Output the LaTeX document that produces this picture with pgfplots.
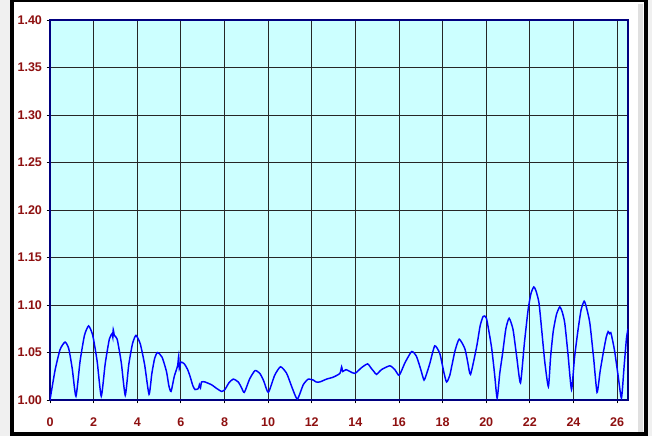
\documentclass[border=0pt]{standalone}
\usepackage{pgfplots}
\pgfplotsset{compat=1.18}
\usepackage{fontspec}
\setmainfont{Liberation Sans}
\definecolor{bgc}{HTML}{CCFFFF}
\definecolor{navyc}{HTML}{000080}
\definecolor{labc}{HTML}{8E1010}
\pgfplotstableread{
x y
0.00 1.000
0.23 1.031
0.46 1.053
0.69 1.061
0.86 1.054
1.02 1.033
1.19 1.004
1.38 1.041
1.58 1.068
1.77 1.078
1.96 1.068
2.16 1.041
2.35 1.004
2.53 1.038
2.72 1.064
2.85 1.070
2.88 1.066
2.90 1.074
2.95 1.068
3.08 1.064
3.27 1.039
3.45 1.005
3.61 1.037
3.78 1.059
3.94 1.068
4.14 1.059
4.34 1.037
4.54 1.006
4.67 1.028
4.80 1.044
4.93 1.050
5.14 1.045
5.34 1.030
5.45 1.015
5.55 1.009
5.70 1.025
5.85 1.036
5.90 1.046
5.93 1.033
6.00 1.040
6.16 1.038
6.31 1.032
6.42 1.025
6.55 1.015
6.65 1.011
6.80 1.012
6.85 1.016
6.90 1.013
6.95 1.019
7.10 1.019
7.41 1.016
7.65 1.012
7.87 1.009
8.02 1.011
8.20 1.018
8.40 1.022
8.63 1.019
8.78 1.013
8.91 1.008
9.15 1.022
9.40 1.031
9.62 1.028
9.80 1.020
10.01 1.008
10.30 1.026
10.57 1.035
10.85 1.028
11.10 1.013
11.34 1.001
11.61 1.016
11.84 1.022
12.07 1.021
12.20 1.019
12.37 1.019
12.68 1.022
12.98 1.024
13.29 1.028
13.37 1.035
13.42 1.030
13.57 1.032
13.75 1.030
13.98 1.028
14.28 1.034
14.56 1.038
14.74 1.033
14.85 1.030
14.97 1.027
15.20 1.032
15.58 1.036
15.81 1.032
16.01 1.026
16.27 1.039
16.58 1.051
16.80 1.046
17.00 1.032
17.15 1.021
17.30 1.030
17.42 1.039
17.64 1.057
17.87 1.049
18.05 1.030
18.18 1.019
18.33 1.026
18.56 1.051
18.76 1.064
19.02 1.054
19.15 1.040
19.28 1.027
19.56 1.056
19.72 1.078
19.86 1.088
20.01 1.086
20.24 1.056
20.38 1.028
20.50 1.002
20.62 1.028
20.75 1.049
20.90 1.075
21.05 1.086
21.23 1.074
21.40 1.045
21.57 1.018
21.75 1.060
21.92 1.095
22.05 1.112
22.18 1.119
22.28 1.115
22.42 1.102
22.55 1.072
22.69 1.039
22.85 1.014
22.95 1.045
23.07 1.072
23.22 1.090
23.37 1.098
23.48 1.093
23.60 1.081
23.75 1.048
23.91 1.011
24.05 1.045
24.21 1.074
24.35 1.095
24.49 1.104
24.60 1.097
24.75 1.081
24.92 1.045
25.08 1.008
25.22 1.030
25.36 1.049
25.50 1.066
25.59 1.072
25.65 1.070
25.71 1.071
25.80 1.062
25.89 1.051
26.05 1.025
26.20 1.002
26.32 1.035
26.43 1.065
26.50 1.075
}\curve
\begin{document}
\begin{tikzpicture}[x=0.75pt,y=0.75pt]
\useasboundingbox (0,0) rectangle (652,436);
\clip (0,0) rectangle (652,436);
\fill[black!6] (0,0) rectangle (652,436);
\fill[white] (10,0) rectangle (648,436);
\fill[black!12] (638,4) rectangle (643,432);
\draw[line width=3pt] (12,2) rectangle (645.5,435.5);
\begin{axis}[
  at={(37.5pt,27pt)}, anchor=south west,
  scale only axis, width=433.5pt, height=285pt,
  xmin=0, xmax=26.5, ymin=1, ymax=1.4,
  axis background/.style={fill=bgc},
  axis line style={navyc, line width=2.2pt},
  grid=major, major grid style={black!85, line width=0.6pt},
  xtick={0,2,...,26},
  ytick={1,1.05,1.1,1.15,1.2,1.25,1.3,1.35,1.4},
  yticklabel style={/pgf/number format/.cd, fixed, fixed zerofill, precision=2},
  xticklabel style={yshift=-7pt},
  ticklabel style={font=\fontsize{9.4}{10}\selectfont\bfseries, text=labc},
  /pgf/number format/assume math mode=true,
  tick align=outside, tick pos=left,
  major tick length=2.5pt, tick style={black, line width=0.6pt},
  clip=true,
]
\addplot[color={rgb,255:red,0;green,0;blue,255}, line width=1.1pt, smooth, tension=0.35] table[x=x,y=y] {\curve};
\end{axis}
\end{tikzpicture}
\end{document}
